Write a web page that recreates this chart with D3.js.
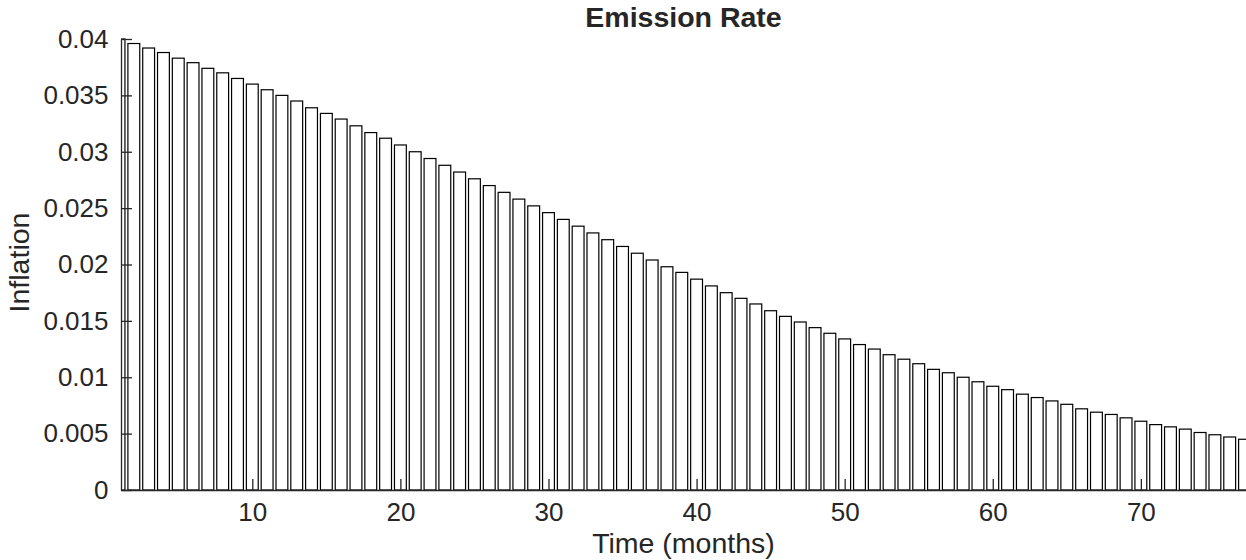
<!DOCTYPE html>
<html>
<head>
<meta charset="utf-8">
<script src="https://cdn.jsdelivr.net/npm/d3@7"></script>
<style>
	body { margin: 0; background: #fff; }
	text { font-family: "Liberation Sans", Helvetica, Arial, sans-serif; fill: #262626; }
</style>
</head>
<body>
<svg id="bar-graph" width="1246" height="560"></svg>
<script>
// month index of each bar
let months = d3.range(1, 78);

// inflation per month
let inflation = [
	0.0400, 0.0396, 0.0392, 0.0388, 0.0383, 0.0379, 0.0374, 0.0370, 0.0365, 0.0360,
	0.0355, 0.0350, 0.0345, 0.0339, 0.0334, 0.0329, 0.0323, 0.0317, 0.0312, 0.0306,
	0.0300, 0.0294, 0.0288, 0.0282, 0.0276, 0.0270, 0.0264, 0.0258, 0.0252, 0.0246,
	0.0240, 0.0234, 0.0228, 0.0222, 0.0216, 0.0210, 0.0204, 0.0198, 0.0193, 0.0187,
	0.0181, 0.0175, 0.0170, 0.0165, 0.0159, 0.0154, 0.0149, 0.0144, 0.0139, 0.0134,
	0.0129, 0.0125, 0.0120, 0.0116, 0.0112, 0.0107, 0.0104, 0.0100, 0.0096, 0.0092,
	0.0089, 0.0085, 0.0082, 0.0079, 0.0076, 0.0072, 0.0069, 0.0067, 0.0064, 0.0061,
	0.0058, 0.0056, 0.0054, 0.0051, 0.0049, 0.0047, 0.0045
];

let xTicks = [10, 20, 30, 40, 50, 60, 70];
let yTicks = [0, 0.005, 0.01, 0.015, 0.02, 0.025, 0.03, 0.035, 0.04];
let yTickLabels = ["0", "0.005", "0.01", "0.015", "0.02", "0.025", "0.03", "0.035", "0.04"];

let plotLeft = 121, plotRight = 1246, plotTop = 39, plotBottom = 490;

let x = d3.scaleLinear()
	.domain([1.134, 77.1])
	.range([plotLeft, plotRight]);

let y = d3.scaleLinear()
	.domain([0, 0.04])
	.range([plotBottom, plotTop]);

let barWidth = 0.8*(x(2) - x(1));

let svg = d3.select("#bar-graph");

svg.append("defs")
	.append("clipPath")
	.attr("id", "plot-clip")
	.append("rect")
	.attr("x", plotLeft)
	.attr("y", 0)
	.attr("width", plotRight - plotLeft)
	.attr("height", plotBottom + 1);

svg.append("g")
	.attr("clip-path", "url(#plot-clip)")
	.selectAll("rect")
	.data(inflation)
	.enter().append("rect")
	.attr("x", function(d, i) { return x(months[i]) - barWidth/2; })
	.attr("y", function(d) { return y(d); })
	.attr("width", barWidth)
	.attr("height", function(d) { return plotBottom - y(d); })
	.attr("fill", "white")
	.attr("stroke", "black")
	.attr("stroke-width", 1.2);

// Axes, ticks pointing inwards
let xAxis = svg.append("g")
	.attr("transform", "translate(0," + plotBottom + ")")
	.call(d3.axisBottom(x)
		.tickValues(xTicks)
		.tickSizeInner(-11)
		.tickSizeOuter(0)
		.tickPadding(13)
		.tickFormat(d3.format("d")));

let yAxis = svg.append("g")
	.attr("transform", "translate(" + plotLeft + ",0)")
	.call(d3.axisLeft(y)
		.tickValues(yTicks)
		.tickSizeInner(-11)
		.tickSizeOuter(0)
		.tickPadding(12.5)
		.tickFormat(function(d, i) { return yTickLabels[i]; }));

[xAxis, yAxis].forEach(function(g) {
	g.selectAll("path, line")
		.attr("stroke", "#262626")
		.attr("stroke-width", 1.3);
	g.selectAll("text")
		.style("font-size", "26px")
		.attr("fill", "#262626");
});

// Title
svg.append("text")
	.attr("x", (plotLeft + plotRight)/2)
	.attr("y", 27)
	.style("text-anchor", "middle")
	.style("font-weight", "bold")
	.style("font-size", "28.5px")
	.text("Emission Rate");

// x-axis label
svg.append("text")
	.attr("x", (plotLeft + plotRight)/2)
	.attr("y", 553)
	.style("text-anchor", "middle")
	.style("font-size", "28.5px")
	.text("Time (months)");

// y-axis label
svg.append("text")
	.attr("x", -262.5)
	.attr("y", 28.5)
	.attr("transform", "rotate(-90)")
	.style("text-anchor", "middle")
	.style("font-size", "28.5px")
	.text("Inflation");
</script>
</body>
</html>
